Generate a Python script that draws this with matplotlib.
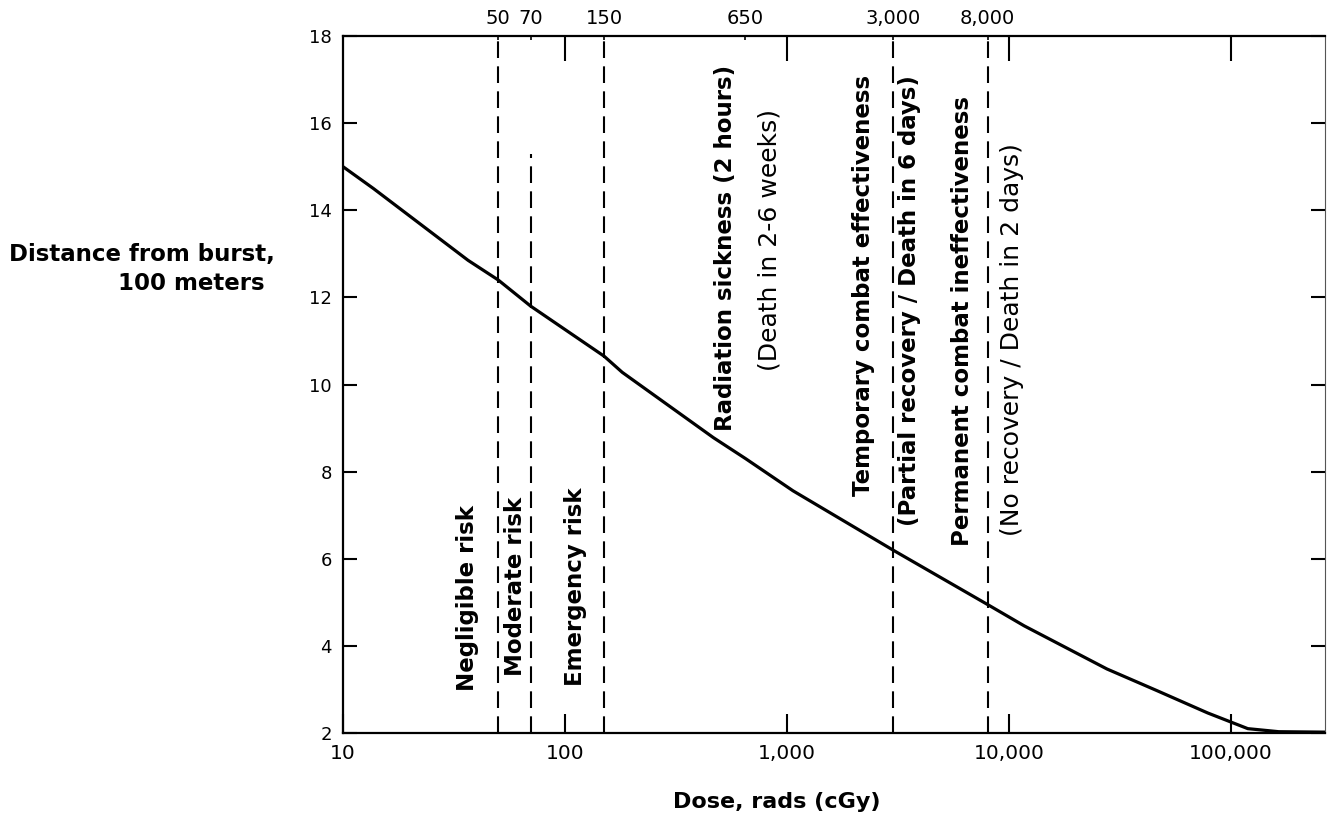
import matplotlib
matplotlib.use("Agg")
import matplotlib.pyplot as plt
from matplotlib.ticker import NullLocator, FixedLocator

# Dose (rads) vs distance from burst (100 m)
dose = [10, 13.7, 36.6, 50, 70, 150, 181, 466, 650, 1064, 3000, 8000, 11700,
        27600, 46500, 78500, 119000, 164000, 265000]
distance = [15.0, 14.5, 12.85, 12.4, 11.8, 10.65, 10.28, 8.78, 8.3, 7.56, 6.2, 4.95, 4.46,
            3.47, 2.97, 2.46, 2.1, 2.03, 2.02]

# threshold doses marked by dashed lines
thresholds = [50, 70, 150, 3000, 8000]
top_ticks = [50, 70, 150, 650, 3000, 8000]
top_labels = ["50", "70", "150", "650", "3,000", "8,000"]

bottom_ticks = [10, 100, 1000, 10000, 100000]
bottom_labels = ["10", "100", "1,000", "10,000", "100,000"]
y_ticks = [2, 4, 6, 8, 10, 12, 14, 16, 18]

# zone labels: text, x (dose), y start, bold
zone_labels = [
    ("Negligible risk", 36.5, 2.97, True),
    ("Moderate risk", 60, 3.3, True),
    ("Emergency risk", 111, 3.08, True),
    ("Radiation sickness (2 hours)", 526, 8.94, True),
    ("(Death in 2-6 weeks)", 838, 10.32, False),
    ("Temporary combat effectiveness", 2200, 7.45, True),
    ("(Partial recovery / Death in 6 days)", 3550, 6.76, True),
    ("Permanent combat ineffectiveness", 6200, 6.30, True),
    ("(No recovery / Death in 2 days)", 10300, 6.53, False),
]

fig = plt.figure(figsize=(13.29, 8.18), dpi=100)
ax = fig.add_axes([343 / 1329, 1 - 733 / 818, 982 / 1329, 697 / 818])

xmin, xmax = 10, 265000
ax.plot(dose, distance, color="black", lw=2.3, solid_capstyle="round")

for t in thresholds:
    top = 0.83 if t == 70 else 1.0
    ax.axvline(t, ymin=0, ymax=top, color="black", lw=1.5, ls=(0, (8, 4)))

for text, x, y, bold in zone_labels:
    ax.text(x, y, text, rotation=90, ha="center", va="bottom",
            fontsize=16.5 if bold else 18, fontweight="bold" if bold else "normal")

ax.set_xscale("log")
ax.set_xlim(xmin, xmax)
ax.set_ylim(2, 18)
ax.xaxis.set_major_locator(FixedLocator(bottom_ticks))
ax.set_xticklabels(bottom_labels)
ax.xaxis.set_minor_locator(NullLocator())
ax.set_yticks(y_ticks)
ax.tick_params(axis="x", direction="in", length=14, width=1.5, labelsize=14.5, pad=8)
ax.tick_params(axis="y", direction="in", length=10, width=1.5, labelsize=13, pad=8,
               right=True)

for side in ["left", "bottom", "top"]:
    ax.spines[side].set_linewidth(1.6)
ax.spines["right"].set_linewidth(0.8)
ax.spines["right"].set_color("#555555")

top_ax = ax.twiny()
top_ax.set_xscale("log")
top_ax.set_xlim(xmin, xmax)
top_ax.xaxis.set_major_locator(FixedLocator(top_ticks))
top_ax.set_xticklabels(top_labels)
top_ax.xaxis.set_minor_locator(FixedLocator([100, 1000, 10000, 100000]))
top_ax.tick_params(axis="x", which="major", direction="in", length=3, width=1.2,
                   labelsize=14, pad=6)
top_ax.tick_params(axis="x", which="minor", direction="in", length=18, width=1.5)
top_ax.xaxis.set_minor_formatter(plt.NullFormatter())
for s in top_ax.spines.values():
    s.set_visible(False)

fig.text(777 / 1329, 1 - 802 / 818, "Dose, rads (cGy)", ha="center", va="center",
         fontsize=16, fontweight="bold")
fig.text(275 / 1329, 1 - 255 / 818, "Distance from burst,", ha="right", va="center",
         fontsize=16.5, fontweight="bold")
fig.text(265 / 1329, 1 - 283 / 818, "100 meters", ha="right", va="center",
         fontsize=16.5, fontweight="bold")

fig.savefig("out.png", dpi=100)
